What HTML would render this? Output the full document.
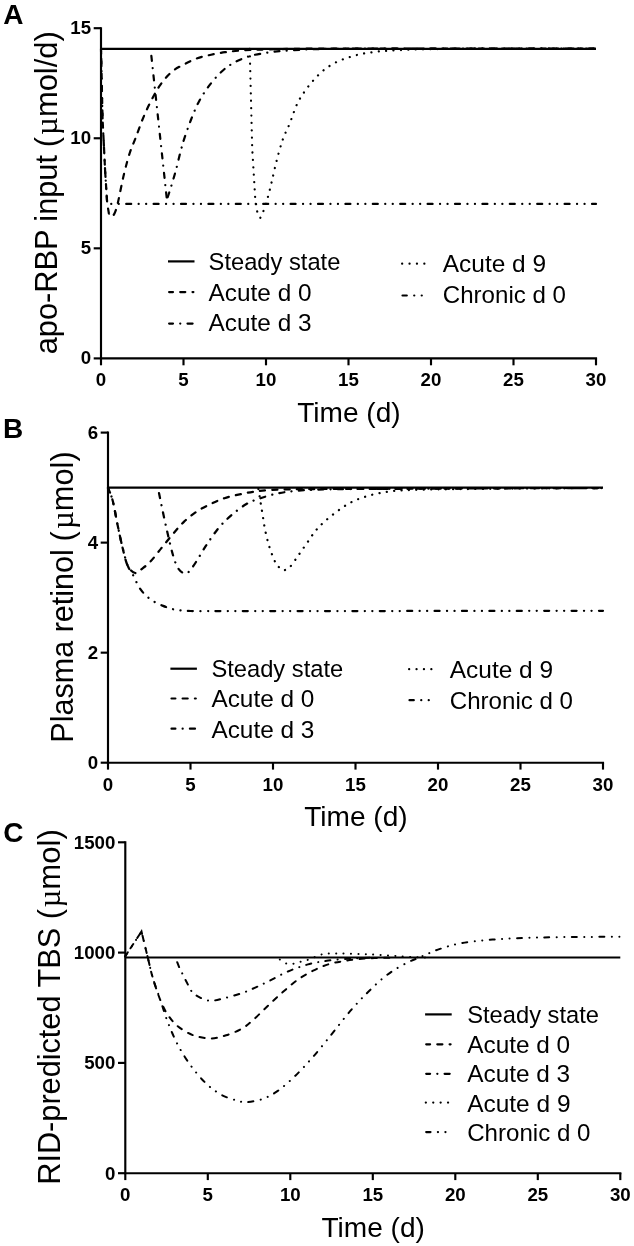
<!DOCTYPE html>
<html lang="en">
<head>
<meta charset="utf-8">
<title>Figure: apo-RBP input, plasma retinol and RID-predicted TBS</title>
<style>
html,body{margin:0;padding:0;background:#fff;}
body{width:634px;height:1246px;overflow:hidden;}
svg{display:block;font-family:"Liberation Sans", sans-serif;}
text{fill:#000;}
</style>
</head>
<body>
<svg width="634" height="1246" viewBox="0 0 634 1246">
<rect x="0" y="0" width="634" height="1246" fill="#fff"/>
<path d="M101,28.2 V358.4 H596" fill="none" stroke="#000" stroke-width="2.15" stroke-linecap="square"/>
<path d="M93.7,358.4 H101" stroke="#000" stroke-width="2.15"/>
<text x="91.1" y="364.3" font-size="18.7" text-anchor="end" font-weight="bold">0</text>
<path d="M93.7,248.33 H101" stroke="#000" stroke-width="2.15"/>
<text x="91.1" y="254.23" font-size="18.7" text-anchor="end" font-weight="bold">5</text>
<path d="M93.7,138.27 H101" stroke="#000" stroke-width="2.15"/>
<text x="91.1" y="144.17" font-size="18.7" text-anchor="end" font-weight="bold">10</text>
<path d="M93.7,28.2 H101" stroke="#000" stroke-width="2.15"/>
<text x="91.1" y="34.1" font-size="18.7" text-anchor="end" font-weight="bold">15</text>
<path d="M101,358.4 V365.3" stroke="#000" stroke-width="2.15"/>
<text x="101" y="386.4" font-size="18.7" text-anchor="middle" font-weight="bold">0</text>
<path d="M183.5,358.4 V365.3" stroke="#000" stroke-width="2.15"/>
<text x="183.5" y="386.4" font-size="18.7" text-anchor="middle" font-weight="bold">5</text>
<path d="M266,358.4 V365.3" stroke="#000" stroke-width="2.15"/>
<text x="266" y="386.4" font-size="18.7" text-anchor="middle" font-weight="bold">10</text>
<path d="M348.5,358.4 V365.3" stroke="#000" stroke-width="2.15"/>
<text x="348.5" y="386.4" font-size="18.7" text-anchor="middle" font-weight="bold">15</text>
<path d="M431,358.4 V365.3" stroke="#000" stroke-width="2.15"/>
<text x="431" y="386.4" font-size="18.7" text-anchor="middle" font-weight="bold">20</text>
<path d="M513.5,358.4 V365.3" stroke="#000" stroke-width="2.15"/>
<text x="513.5" y="386.4" font-size="18.7" text-anchor="middle" font-weight="bold">25</text>
<path d="M596,358.4 V365.3" stroke="#000" stroke-width="2.15"/>
<text x="596" y="386.4" font-size="18.7" text-anchor="middle" font-weight="bold">30</text>
<text transform="translate(348.9,421.8) scale(1,1.025)" font-size="27.2" text-anchor="middle" textLength="103.5" lengthAdjust="spacingAndGlyphs">Time (d)</text>
<text x="3.2" y="23.7" font-size="28" font-weight="bold">A</text>
<text transform="translate(57.2,354.3) rotate(-90)" font-size="30.9" textLength="199.3" lengthAdjust="spacingAndGlyphs">apo-RBP input</text>
<text transform="translate(57.2,147.2) rotate(-90)" font-size="30.9">(</text>
<text transform="translate(57.2,134.9) rotate(-90)" font-size="30.9" textLength="103.7" lengthAdjust="spacingAndGlyphs"><tspan font-family="'Liberation Serif', serif">µ</tspan>mol/d)</text>
<path d="M101,48.9 H596" fill="none" stroke="#000" stroke-width="2.35"/>
<path d="M101,48.9 L102.6,120 L103.9,145.2 L105.1,170.5 L107.2,203.9 L596,203.9" fill="none" stroke="#000" stroke-width="2.2" stroke-dasharray="5 7.4 0.1 7.4 0.1 7.4" stroke-linecap="round" stroke-dashoffset="17.65"/>
<path d="M101,48.9 L102.6,120 L103.9,145.2 L105.1,170.5 L107.2,203.3 L108.9,213.5 L111.5,216.7 C112,216.17 113.45,215.78 114.5,213.5 C115.55,211.22 116.22,209.58 117.8,203 C119.38,196.42 121.98,182.42 124,174 C126.02,165.58 128,158.42 129.9,152.5 C131.8,146.58 133.22,144.2 135.4,138.5 C137.58,132.8 140.27,124.82 143,118.3 C145.73,111.78 148.85,105.07 151.8,99.4 C154.75,93.73 157.33,88.93 160.7,84.3 C164.07,79.67 168.02,74.97 172,71.6 C175.98,68.23 180.38,66.32 184.6,64.1 C188.82,61.88 192.88,59.87 197.3,58.3 C201.72,56.73 206.48,55.72 211.1,54.7 C215.72,53.68 220.37,52.87 225,52.2 C229.63,51.53 233.9,51.1 238.9,50.7 C243.9,50.3 248.15,50.07 255,49.8 C261.85,49.53 269.17,49.3 280,49.1 C290.83,48.9 291.67,48.7 320,48.6 C348.33,48.5 404,48.52 450,48.5 C496,48.48 571.67,48.5 596,48.5" fill="none" stroke="#000" stroke-width="2.2" stroke-dasharray="5.1 7.2" stroke-linecap="round"/>
<path d="M150.6,48.9 L166.9,199.6" fill="none" stroke="#000" stroke-width="2.2" stroke-dasharray="5.1 7.2 0.1 7.2" stroke-linecap="round" stroke-dashoffset="-7"/>
<path d="M166.9,199.6 C167.55,197.6 169.32,192.45 170.8,187.6 C172.28,182.75 174.12,176.72 175.8,170.5 C177.48,164.28 179.43,155.77 180.9,150.3 C182.37,144.83 182.93,142.75 184.6,137.7 C186.27,132.65 188.58,125.88 190.9,120 C193.22,114.12 195.55,108 198.5,102.4 C201.45,96.8 204.82,91.47 208.6,86.4 C212.38,81.33 217,75.93 221.2,72 C225.4,68.07 229,65.47 233.8,62.8 C238.6,60.13 244.32,57.7 250,56 C255.68,54.3 262.4,53.45 267.9,52.6 C273.4,51.75 277.65,51.37 283,50.9 C288.35,50.43 294.67,50.08 300,49.8 C305.33,49.52 306.67,49.38 315,49.2 C323.33,49.02 327.5,48.82 350,48.7 C372.5,48.58 409,48.53 450,48.5 C491,48.47 571.67,48.5 596,48.5" fill="none" stroke="#000" stroke-width="2.2" stroke-dasharray="5.1 7.2 0.1 7.2" stroke-linecap="round" stroke-dashoffset="-2.5"/>
<path d="M249.7,48.9 L252.2,148 L255.2,198.2 L257.3,212.1 L260.3,217.9 C260.8,216.82 262.03,214.88 263.3,211.4 C264.57,207.92 266.52,201.85 267.9,197 C269.28,192.15 270.13,188.4 271.6,182.3 C273.07,176.2 274.8,167.63 276.7,160.4 C278.6,153.17 280.9,144.88 283,138.9 C285.1,132.92 286.98,130.25 289.3,124.5 C291.62,118.75 294.38,109.85 296.9,104.4 C299.42,98.95 301.67,95.78 304.4,91.8 C307.13,87.82 310.13,84.07 313.3,80.5 C316.47,76.93 319.62,73.43 323.4,70.4 C327.18,67.37 331.58,64.53 336,62.3 C340.42,60.07 345.27,58.47 349.9,57 C354.53,55.53 358.55,54.47 363.8,53.5 C369.05,52.53 375.37,51.77 381.4,51.2 C387.43,50.63 393.57,50.4 400,50.1 C406.43,49.8 411.67,49.6 420,49.4 C428.33,49.2 436.67,49.03 450,48.9 C463.33,48.77 475.67,48.67 500,48.6 C524.33,48.53 580,48.52 596,48.5" fill="none" stroke="#000" stroke-width="2.2" stroke-dasharray="0.1 7.3" stroke-linecap="round"/>
<path d="M168,261.4 H194.5" fill="none" stroke="#000" stroke-width="2.2"/>
<text x="208.6" y="270.3" font-size="24.1" textLength="131.8" lengthAdjust="spacingAndGlyphs">Steady state</text>
<path d="M169.1,292.1 H193.4" fill="none" stroke="#000" stroke-width="2.2" stroke-dasharray="5.1 7.2" stroke-linecap="round" stroke-dashoffset="1.2"/>
<text x="208.6" y="300.8" font-size="24.1" textLength="103" lengthAdjust="spacingAndGlyphs">Acute d 0</text>
<path d="M169.1,323.6 H193.4" fill="none" stroke="#000" stroke-width="2.2" stroke-dasharray="5.1 7.2 0.1 7.2" stroke-linecap="round" stroke-dashoffset="1.2"/>
<text x="208.6" y="331.4" font-size="24.1" textLength="103" lengthAdjust="spacingAndGlyphs">Acute d 3</text>
<path d="M402.1,263.7 H424.8" fill="none" stroke="#000" stroke-width="2.2" stroke-dasharray="0.1 7.3" stroke-linecap="round" stroke-dashoffset="0"/>
<text x="442.8" y="271.6" font-size="24.1" textLength="103.3" lengthAdjust="spacingAndGlyphs">Acute d 9</text>
<path d="M402.5,295.5 H424.8" fill="none" stroke="#000" stroke-width="2.2" stroke-dasharray="5 7.4 0.1 7.4 0.1 7.4" stroke-linecap="round" stroke-dashoffset="0.7"/>
<text x="442.8" y="303.1" font-size="24.1" textLength="123.2" lengthAdjust="spacingAndGlyphs">Chronic d 0</text>
<path d="M108,432.6 V762.7 H603" fill="none" stroke="#000" stroke-width="2.15" stroke-linecap="square"/>
<path d="M100.7,762.7 H108" stroke="#000" stroke-width="2.15"/>
<text x="98.1" y="768.8" font-size="18.7" text-anchor="end" font-weight="bold">0</text>
<path d="M100.7,652.67 H108" stroke="#000" stroke-width="2.15"/>
<text x="98.1" y="658.77" font-size="18.7" text-anchor="end" font-weight="bold">2</text>
<path d="M100.7,542.63 H108" stroke="#000" stroke-width="2.15"/>
<text x="98.1" y="548.73" font-size="18.7" text-anchor="end" font-weight="bold">4</text>
<path d="M100.7,432.6 H108" stroke="#000" stroke-width="2.15"/>
<text x="98.1" y="438.7" font-size="18.7" text-anchor="end" font-weight="bold">6</text>
<path d="M108,762.7 V769.6" stroke="#000" stroke-width="2.15"/>
<text x="108" y="790.7" font-size="18.7" text-anchor="middle" font-weight="bold">0</text>
<path d="M190.5,762.7 V769.6" stroke="#000" stroke-width="2.15"/>
<text x="190.5" y="790.7" font-size="18.7" text-anchor="middle" font-weight="bold">5</text>
<path d="M273,762.7 V769.6" stroke="#000" stroke-width="2.15"/>
<text x="273" y="790.7" font-size="18.7" text-anchor="middle" font-weight="bold">10</text>
<path d="M355.5,762.7 V769.6" stroke="#000" stroke-width="2.15"/>
<text x="355.5" y="790.7" font-size="18.7" text-anchor="middle" font-weight="bold">15</text>
<path d="M438,762.7 V769.6" stroke="#000" stroke-width="2.15"/>
<text x="438" y="790.7" font-size="18.7" text-anchor="middle" font-weight="bold">20</text>
<path d="M520.5,762.7 V769.6" stroke="#000" stroke-width="2.15"/>
<text x="520.5" y="790.7" font-size="18.7" text-anchor="middle" font-weight="bold">25</text>
<path d="M603,762.7 V769.6" stroke="#000" stroke-width="2.15"/>
<text x="603" y="790.7" font-size="18.7" text-anchor="middle" font-weight="bold">30</text>
<text transform="translate(355.9,826.1) scale(1,1.025)" font-size="27.2" text-anchor="middle" textLength="103.5" lengthAdjust="spacingAndGlyphs">Time (d)</text>
<text x="2.9" y="437.6" font-size="28" font-weight="bold">B</text>
<text transform="translate(72.8,742.7) rotate(-90)" font-size="30.9" textLength="193.6" lengthAdjust="spacingAndGlyphs">Plasma retinol</text>
<text transform="translate(72.8,541.6) rotate(-90)" font-size="30.9">(</text>
<text transform="translate(72.8,528.9) rotate(-90)" font-size="30.9" textLength="77.6" lengthAdjust="spacingAndGlyphs"><tspan font-family="'Liberation Serif', serif">µ</tspan>mol)</text>
<path d="M108,487.6 H603" fill="none" stroke="#000" stroke-width="2.1"/>
<path d="M108,488 C108.77,490.05 110.98,494.05 112.6,500.3 C114.22,506.55 116.02,517.52 117.7,525.5 C119.38,533.48 121.02,541.47 122.7,548.2 C124.38,554.93 126.12,561.52 127.8,565.9 C129.48,570.28 130.7,570.62 132.8,574.5 C134.9,578.38 137.45,585.07 140.4,589.2 C143.35,593.33 146.72,596.52 150.5,599.3 C154.28,602.08 158.9,604.15 163.1,605.9 C167.3,607.65 171.07,608.95 175.7,609.8 C180.33,610.65 185.18,610.78 190.9,611 C196.62,611.22 206.82,611.08 210,611.1 L400,611 L603,610.8" fill="none" stroke="#000" stroke-width="2.25" stroke-dasharray="5 7.4 0.1 7.4 0.1 7.4" stroke-linecap="round" stroke-dashoffset="3.23"/>
<path d="M108,488 C108.77,490.05 110.98,494.05 112.6,500.3 C114.22,506.55 116.02,517.52 117.7,525.5 C119.38,533.48 121.02,541.47 122.7,548.2 C124.38,554.93 125.7,561.77 127.8,565.9 C129.9,570.03 132.93,572.52 135.3,573 C137.67,573.48 139.47,570.72 142,568.8 C144.53,566.88 147.27,564.95 150.5,561.5 C153.73,558.05 157.7,552.63 161.4,548.1 C165.1,543.57 168.92,538.72 172.7,534.3 C176.48,529.88 180.1,525.4 184.1,521.6 C188.1,517.8 192.28,514.43 196.7,511.5 C201.12,508.57 205.98,506.22 210.6,504 C215.22,501.78 219.57,499.8 224.4,498.2 C229.23,496.6 234.55,495.52 239.6,494.4 C244.65,493.28 249.45,492.25 254.7,491.5 C259.95,490.75 265.22,490.27 271.1,489.9 C276.98,489.53 281.85,489.45 290,489.3 C298.15,489.15 301.67,489.08 320,489 C338.33,488.92 370,488.92 400,488.8 C430,488.68 466.17,488.42 500,488.3 C533.83,488.18 585.83,488.13 603,488.1" fill="none" stroke="#000" stroke-width="2.25" stroke-dasharray="5.1 7.2" stroke-linecap="round"/>
<path d="M158,488.2 C158.85,492.32 161.42,505 163.1,512.9 C164.78,520.8 166.42,528.45 168.1,535.6 C169.78,542.75 171.52,550.33 173.2,555.8 C174.88,561.27 176.1,565.45 178.2,568.4 C180.3,571.35 183.27,573.92 185.8,573.5 C188.33,573.08 190.03,570.53 193.4,565.9 C196.77,561.27 201.8,552.02 206,545.7 C210.2,539.38 214.4,533.05 218.6,528 C222.8,522.95 226.57,519.4 231.2,515.4 C235.83,511.4 241.57,506.85 246.4,504 C251.23,501.15 254.95,500.07 260.2,498.3 C265.45,496.53 272.02,494.63 277.9,493.4 C283.78,492.17 289.32,491.52 295.5,490.9 C301.68,490.28 306.75,490 315,489.7 C323.25,489.4 330.83,489.25 345,489.1 C359.17,488.95 374.17,488.93 400,488.8 C425.83,488.67 466.17,488.42 500,488.3 C533.83,488.18 585.83,488.13 603,488.1" fill="none" stroke="#000" stroke-width="2.25" stroke-dasharray="5.1 7.2 0.1 7.2" stroke-linecap="round" stroke-dashoffset="-5"/>
<path d="M258.42,488.93 C258.76,491.03 259.73,497.13 260.44,501.55 C261.16,505.96 261.91,510.59 262.71,515.43 C263.51,520.26 264.19,525.52 265.24,530.57 C266.29,535.62 267.55,540.87 269.02,545.71 C270.49,550.55 272.6,556.23 274.07,559.59 C275.54,562.95 276.38,564.13 277.85,565.9 C279.33,567.67 280.93,569.98 282.9,570.19 C284.88,570.4 287.19,569.56 289.72,567.16 C292.24,564.76 295.18,559.8 298.04,555.8 C300.9,551.81 303.93,547.39 306.88,543.19 C309.82,538.98 312.56,534.35 315.71,530.57 C318.86,526.78 322.02,523.84 325.8,520.47 C329.59,517.11 334.22,513.41 338.42,510.38 C342.63,507.35 346.83,504.49 351.04,502.3 C355.25,500.12 359.03,498.77 363.66,497.26 C368.29,495.74 373.75,494.27 378.8,493.22 C383.85,492.17 388.74,491.48 393.94,490.95 C399.14,490.41 403.99,490.24 410,490 C416.01,489.76 423.33,489.63 430,489.5 C436.67,489.37 441.67,489.3 450,489.2 C458.33,489.1 468.33,489.02 480,488.9 C491.67,488.78 499.5,488.63 520,488.5 C540.5,488.37 589.17,488.17 603,488.1" fill="none" stroke="#000" stroke-width="2.25" stroke-dasharray="0.1 7.3" stroke-linecap="round"/>
<path d="M170.4,668.7 H196.9" fill="none" stroke="#000" stroke-width="2.2"/>
<text x="211.4" y="677.1" font-size="24.1" textLength="131.8" lengthAdjust="spacingAndGlyphs">Steady state</text>
<path d="M171.5,698.5 H195.8" fill="none" stroke="#000" stroke-width="2.2" stroke-dasharray="5.1 7.2" stroke-linecap="round" stroke-dashoffset="1.2"/>
<text x="211.4" y="707.4" font-size="24.1" textLength="103" lengthAdjust="spacingAndGlyphs">Acute d 0</text>
<path d="M171.5,728.7 H195.8" fill="none" stroke="#000" stroke-width="2.2" stroke-dasharray="5.1 7.2 0.1 7.2" stroke-linecap="round" stroke-dashoffset="1.2"/>
<text x="211.4" y="737.7" font-size="24.1" textLength="103" lengthAdjust="spacingAndGlyphs">Acute d 3</text>
<path d="M409.1,669.2 H431.8" fill="none" stroke="#000" stroke-width="2.2" stroke-dasharray="0.1 7.3" stroke-linecap="round" stroke-dashoffset="0"/>
<text x="449.8" y="677.9" font-size="24.1" textLength="103.3" lengthAdjust="spacingAndGlyphs">Acute d 9</text>
<path d="M409.5,700.2 H431.8" fill="none" stroke="#000" stroke-width="2.2" stroke-dasharray="5 7.4 0.1 7.4 0.1 7.4" stroke-linecap="round" stroke-dashoffset="0.7"/>
<text x="449.8" y="708.9" font-size="24.1" textLength="123.2" lengthAdjust="spacingAndGlyphs">Chronic d 0</text>
<path d="M125.3,842.3 V1173.2 H620.3" fill="none" stroke="#000" stroke-width="2.15" stroke-linecap="square"/>
<path d="M118,1173.2 H125.3" stroke="#000" stroke-width="2.15"/>
<text x="115.4" y="1179.7" font-size="18.7" text-anchor="end" font-weight="bold">0</text>
<path d="M118,1062.9 H125.3" stroke="#000" stroke-width="2.15"/>
<text x="115.4" y="1069.4" font-size="18.7" text-anchor="end" font-weight="bold">500</text>
<path d="M118,952.6 H125.3" stroke="#000" stroke-width="2.15"/>
<text x="115.4" y="959.1" font-size="18.7" text-anchor="end" font-weight="bold">1000</text>
<path d="M118,842.3 H125.3" stroke="#000" stroke-width="2.15"/>
<text x="115.4" y="848.8" font-size="18.7" text-anchor="end" font-weight="bold">1500</text>
<path d="M125.3,1173.2 V1180.1" stroke="#000" stroke-width="2.15"/>
<text x="125.3" y="1201.2" font-size="18.7" text-anchor="middle" font-weight="bold">0</text>
<path d="M207.8,1173.2 V1180.1" stroke="#000" stroke-width="2.15"/>
<text x="207.8" y="1201.2" font-size="18.7" text-anchor="middle" font-weight="bold">5</text>
<path d="M290.3,1173.2 V1180.1" stroke="#000" stroke-width="2.15"/>
<text x="290.3" y="1201.2" font-size="18.7" text-anchor="middle" font-weight="bold">10</text>
<path d="M372.8,1173.2 V1180.1" stroke="#000" stroke-width="2.15"/>
<text x="372.8" y="1201.2" font-size="18.7" text-anchor="middle" font-weight="bold">15</text>
<path d="M455.3,1173.2 V1180.1" stroke="#000" stroke-width="2.15"/>
<text x="455.3" y="1201.2" font-size="18.7" text-anchor="middle" font-weight="bold">20</text>
<path d="M537.8,1173.2 V1180.1" stroke="#000" stroke-width="2.15"/>
<text x="537.8" y="1201.2" font-size="18.7" text-anchor="middle" font-weight="bold">25</text>
<path d="M620.3,1173.2 V1180.1" stroke="#000" stroke-width="2.15"/>
<text x="620.3" y="1201.2" font-size="18.7" text-anchor="middle" font-weight="bold">30</text>
<text transform="translate(373.2,1236.6) scale(1,1.025)" font-size="27.2" text-anchor="middle" textLength="103.5" lengthAdjust="spacingAndGlyphs">Time (d)</text>
<text x="3.2" y="842.4" font-size="28" font-weight="bold">C</text>
<text transform="translate(60,1184.7) rotate(-90)" font-size="30.9" textLength="256.8" lengthAdjust="spacingAndGlyphs">RID-predicted TBS</text>
<text transform="translate(60,919.3) rotate(-90)" font-size="30.9">(</text>
<text transform="translate(60,907.6) rotate(-90)" font-size="30.9" textLength="78.4" lengthAdjust="spacingAndGlyphs"><tspan font-family="'Liberation Serif', serif">µ</tspan>mol)</text>
<path d="M125.3,957.5 H620.3" fill="none" stroke="#000" stroke-width="2"/>
<path d="M125.1,956.5 L141.5,931.5 C142.57,935.92 146,950.22 147.9,958 C149.8,965.78 150.8,971.12 152.9,978.2 C155,985.28 157.98,993.08 160.5,1000.5" fill="none" stroke="#000" stroke-width="2" stroke-dasharray="5 7.4 0.1 7.4 0.1 7.4" stroke-linecap="round" stroke-dashoffset="0"/>
<path d="M160.5,1000.5 C163.02,1007.92 165.07,1015.22 168,1022.7 C170.93,1030.18 174.3,1038.25 178.1,1045.4 C181.9,1052.55 186.17,1059.28 190.8,1065.6 C195.43,1071.92 200.87,1078.47 205.9,1083.3 C210.93,1088.13 215.95,1091.75 221,1094.6 C226.05,1097.45 231.98,1099.13 236.2,1100.4 C240.42,1101.67 241.9,1102.43 246.3,1102.2 C250.7,1101.97 257.35,1100.88 262.6,1099 C267.85,1097.12 272.33,1094.78 277.8,1090.9 C283.27,1087.02 289.52,1081.38 295.4,1075.7 C301.28,1070.02 307.2,1063.53 313.1,1056.8 C319,1050.07 325.33,1042.07 330.8,1035.3 C336.27,1028.53 341.28,1021.78 345.9,1016.2 C350.52,1010.62 354.72,1005.92 358.5,1001.8 C362.28,997.68 364.82,995.2 368.6,991.5 C372.38,987.8 376.98,983.15 381.2,979.6 C385.42,976.05 389.27,973.17 393.9,970.2 C398.53,967.23 404.65,963.95 409,961.8 C413.35,959.65 416.5,958.8 420,957.3 C423.5,955.8 426.67,954.2 430,952.8 C433.33,951.4 435.12,950.45 440,948.9 C444.88,947.35 451.6,944.97 459.3,943.5 C467,942.03 476.58,940.98 486.2,940.1 C495.82,939.22 504.17,938.7 517,938.2 C529.83,937.7 545.98,937.33 563.2,937.1 C580.42,936.87 610.78,936.85 620.3,936.8" fill="none" stroke="#000" stroke-width="2" stroke-dasharray="5 7.4 0.1 7.4 0.1 7.4" stroke-linecap="round" stroke-dashoffset="21.28"/>
<path d="M125.1,956.5 L141.5,931.5 C142.57,935.92 146,950.22 147.9,958 C149.8,965.78 150.8,971.12 152.9,978.2 C155,985.28 157.98,994.35 160.5,1000.5 C163.02,1006.65 165.07,1010.77 168,1015.1 C170.93,1019.43 173.88,1023.13 178.1,1026.5 C182.32,1029.87 187.82,1033.32 193.3,1035.3 C198.78,1037.28 205.53,1038.4 211,1038.4 C216.47,1038.4 221.07,1036.87 226.1,1035.3 C231.13,1033.73 236.8,1031.45 241.2,1029 C245.6,1026.55 248.08,1024.43 252.5,1020.6 C256.92,1016.77 262.65,1010.75 267.7,1006 C272.75,1001.25 277.75,996.52 282.8,992.1 C287.85,987.68 292.95,983.07 298,979.5 C303.05,975.93 308.07,973.22 313.1,970.7 C318.13,968.18 323.15,966 328.2,964.4 C333.25,962.8 338.35,961.98 343.4,961.1 C348.45,960.22 353.03,959.62 358.5,959.1 C363.97,958.58 370.12,958.25 376.2,958 C382.28,957.75 391.87,957.67 395,957.6" fill="none" stroke="#000" stroke-width="2" stroke-dasharray="5.1 7.2" stroke-linecap="round" stroke-dashoffset="2.5"/>
<path d="M175.8,958.5 C176.38,960 178.15,964.87 179.3,967.5 C180.45,970.13 181.28,971.48 182.7,974.3 C184.12,977.12 186.33,981.58 187.8,984.4 C189.27,987.22 189.75,989.17 191.5,991.2 C193.25,993.23 195.27,995 198.3,996.6 C201.33,998.2 205.48,1000.5 209.7,1000.8 C213.92,1001.1 218.35,999.63 223.6,998.4 C228.85,997.17 235.73,995.28 241.2,993.4 C246.67,991.52 251.57,989.25 256.4,987.1 C261.23,984.95 264.95,983.1 270.2,980.5 C275.45,977.9 281.6,974.18 287.9,971.5 C294.2,968.82 301.28,966.22 308,964.4 C314.72,962.58 321.03,961.58 328.2,960.6 C335.37,959.62 344.03,958.98 351,958.5 C357.97,958.02 366.83,957.83 370,957.7" fill="none" stroke="#000" stroke-width="2" stroke-dasharray="5.1 7.2 0.1 7.2" stroke-linecap="round" stroke-dashoffset="-4"/>
<path d="M279.8,959.5 C280.93,960.18 284.2,962.92 286.6,963.6 C289,964.28 291.88,963.9 294.2,963.6 C296.52,963.3 298.2,962.43 300.5,961.8 C302.8,961.17 304.42,961.05 308,959.8 C311.58,958.55 318.42,955.35 322,954.3 C325.58,953.25 327,953.63 329.5,953.5 C332,953.37 334.48,953.5 337,953.5 C339.52,953.5 339.77,953.37 344.6,953.5 C349.43,953.63 361.15,954.12 366,954.3 C370.85,954.48 371.17,954.48 373.7,954.6 C376.23,954.72 378.68,954.85 381.2,955 C383.72,955.15 386.27,955.33 388.8,955.5 C391.33,955.67 393.87,955.82 396.4,956 C398.93,956.18 400.9,956.4 404,956.6 C407.1,956.8 411.5,957.05 415,957.2 C418.5,957.35 423.33,957.45 425,957.5" fill="none" stroke="#000" stroke-width="2" stroke-dasharray="0.1 7.3" stroke-linecap="round"/>
<path d="M425.1,1014.4 H451.7" fill="none" stroke="#000" stroke-width="2.2"/>
<text x="467.2" y="1023.2" font-size="24.1" textLength="131.8" lengthAdjust="spacingAndGlyphs">Steady state</text>
<path d="M426.2,1044.3 H450.6" fill="none" stroke="#000" stroke-width="2.2" stroke-dasharray="5.1 7.2" stroke-linecap="round" stroke-dashoffset="1.2"/>
<text x="467.2" y="1052.5" font-size="24.1" textLength="103" lengthAdjust="spacingAndGlyphs">Acute d 0</text>
<path d="M426.2,1073.8 H450.6" fill="none" stroke="#000" stroke-width="2.2" stroke-dasharray="5.1 7.2 0.1 7.2" stroke-linecap="round" stroke-dashoffset="1.2"/>
<text x="467.2" y="1082.3" font-size="24.1" textLength="103" lengthAdjust="spacingAndGlyphs">Acute d 3</text>
<path d="M425.8,1102.6 H450.6" fill="none" stroke="#000" stroke-width="2.2" stroke-dasharray="0.1 7.3" stroke-linecap="round" stroke-dashoffset="0"/>
<text x="467.2" y="1111.8" font-size="24.1" textLength="103.3" lengthAdjust="spacingAndGlyphs">Acute d 9</text>
<path d="M426.2,1132.1 H450.6" fill="none" stroke="#000" stroke-width="2.2" stroke-dasharray="5 7.4 0.1 7.4 0.1 7.4" stroke-linecap="round" stroke-dashoffset="0.7"/>
<text x="467.2" y="1141.3" font-size="24.1" textLength="123.2" lengthAdjust="spacingAndGlyphs">Chronic d 0</text>
</svg>
</body>
</html>
